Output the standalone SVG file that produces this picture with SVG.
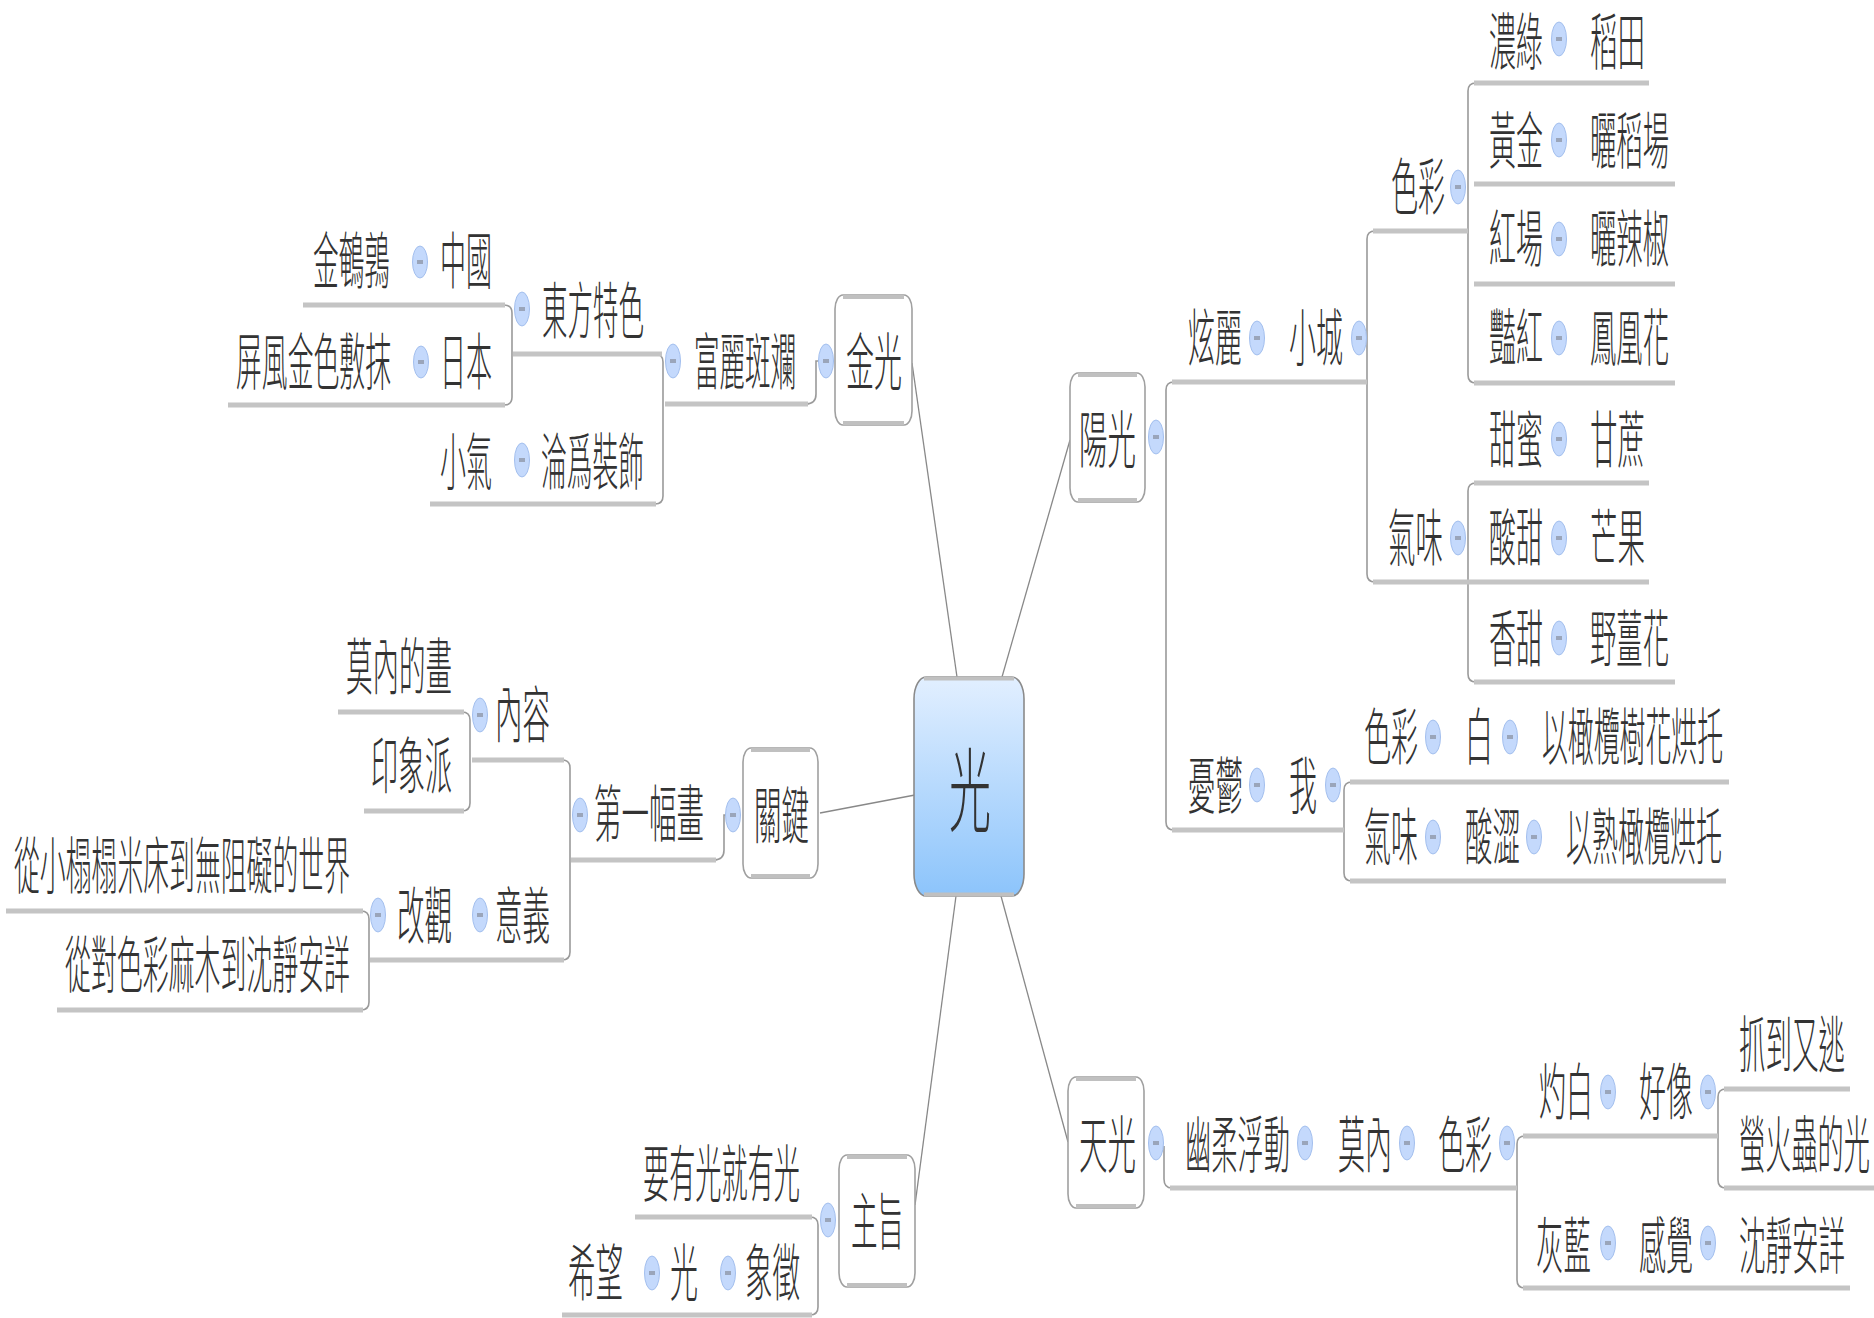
<svg xmlns="http://www.w3.org/2000/svg" width="1874" height="1318" viewBox="0 0 1874 1318">
<defs>
<linearGradient id="cg" x1="0" y1="0" x2="0" y2="1">
<stop offset="0" stop-color="#e2efff"/>
<stop offset="1" stop-color="#8cc4fb"/>
</linearGradient>
<style>
.t{font-family:"Noto Sans CJK TC","Noto Sans CJK SC",sans-serif;font-size:26px;font-weight:300;fill:#333}
.c{font-family:"Noto Sans CJK TC","Noto Sans CJK SC",sans-serif;font-size:42px;font-weight:300;fill:#333}
.ul{stroke:#c4c4c4;stroke-width:5;fill:none}
.cn{stroke:#9a9a9a;stroke-width:1.6;fill:none}
.ml{stroke:#888;stroke-width:1.3;fill:none}
.bx{fill:#fff;stroke:#a0a0a0;stroke-width:1.6}
.bb{stroke:#c0c0c0;stroke-width:4;fill:none}
.ci{fill:#c4d9fc;stroke:#a3bfee;stroke-width:1}
.mi{fill:#9aa5ba}
</style>
</defs>

<g id="connectors">
<path class="ml" d="M957 677 L912 363"/>
<path class="ml" d="M1002 677 L1070 440"/>
<path class="ml" d="M915 795 L820 813" stroke-width="2"/>
<path class="ml" d="M956 896 L915 1205"/>
<path class="ml" d="M1001 896 L1068 1142"/>
<path class="cn" d="M504 305 Q512 305 512 313 L512 397 Q512 405 504 405"/>
<path class="cn" d="M655 354 Q663 354 663 362 L663 496 Q663 504 655 504"/>
<path class="cn" d="M806 404 Q816 404 816 394 L816 361 L819 361"/>
<path class="cn" d="M462 712 Q470 712 470 720 L470 803 Q470 811 462 811"/>
<path class="cn" d="M361 911 Q369 911 369 919 L369 1002 Q369 1010 361 1010"/>
<path class="cn" d="M562 760 Q570 760 570 768 L570 952 Q570 960 562 960"/>
<path class="cn" d="M714 860 Q724 860 724 850 L724 815 L726 815"/>
<path class="cn" d="M810 1217 Q818 1217 818 1225 L818 1307 Q818 1315 810 1315"/>
<path class="cn" d="M1174 382 Q1166 382 1166 390 L1166 822 Q1166 830 1174 830"/>
<path class="cn" d="M1375 231 Q1367 231 1367 239 L1367 574 Q1367 582 1375 582"/>
<path class="cn" d="M1476 83 Q1468 83 1468 91 L1468 375 Q1468 383 1476 383"/>
<path class="cn" d="M1476 483 Q1468 483 1468 491 L1468 674 Q1468 682 1476 682"/>
<path class="cn" d="M1352 782 Q1344 782 1344 790 L1344 873 Q1344 881 1352 881"/>
<path class="cn" d="M1164 1146 L1164 1179 Q1164 1188 1172 1188"/>
<path class="cn" d="M1525 1136 Q1517 1136 1517 1144 L1517 1280 Q1517 1288 1525 1288"/>
<path class="cn" d="M1726 1089 Q1718 1089 1718 1097 L1718 1180 Q1718 1188 1726 1188"/>
</g>

<g id="n-center">
<rect x="914" y="677" width="110" height="219" rx="12" ry="22" fill="url(#cg)" stroke="#8a8a8a" stroke-width="1.6"/>
<path class="bb" d="M924 678.5 L1014 678.5 M924 894.5 L1014 894.5" stroke="#a9b3bf"/>
<text class="c" transform="translate(949,825) scale(1,2.2)" textLength="42" lengthAdjust="spacingAndGlyphs">光</text>
</g>

<!-- 金光 branch -->
<g id="n-jinguang">
<rect class="bx" x="835" y="295" width="77" height="130" rx="8" ry="14"/>
<path class="bb" d="M843 297 L904 297 M843 423 L904 423"/>
<text class="t" transform="translate(846,385) scale(1,2.4)" textLength="56" lengthAdjust="spacingAndGlyphs">金光</text>
<ellipse class="ci" cx="826" cy="361" rx="7.5" ry="17"/><rect class="mi" x="823" y="359" width="6" height="4"/>
</g>
<g id="n-fuli">
<path class="ul" d="M665 404 L808 404"/>
<text class="t" transform="translate(694,385) scale(1,2.4)" textLength="102" lengthAdjust="spacingAndGlyphs">富麗斑斕</text>
<ellipse class="ci" cx="673" cy="361" rx="7.5" ry="17"/><rect class="mi" x="670" y="359" width="6" height="4"/>
</g>
<g id="n-dongfang">
<path class="ul" d="M513 354 L662 354"/>
<text class="t" transform="translate(542,334) scale(1,2.4)" textLength="102" lengthAdjust="spacingAndGlyphs">東方特色</text>
<ellipse class="ci" cx="522" cy="309" rx="7.5" ry="17"/><rect class="mi" x="519" y="307" width="6" height="4"/>
</g>
<g id="n-zhongguo">
<path class="ul" d="M410 305 L505 305"/>
<text class="t" transform="translate(440,284) scale(1,2.4)" textLength="52" lengthAdjust="spacingAndGlyphs">中國</text>
<ellipse class="ci" cx="420" cy="262" rx="7.5" ry="16"/><rect class="mi" x="417" y="260" width="6" height="4"/>
</g>
<g id="n-jinanchun">
<path class="ul" d="M303 305 L410 305"/>
<text class="t" transform="translate(313,284) scale(1,2.4)" textLength="77" lengthAdjust="spacingAndGlyphs">金鵪鶉</text>
</g>
<g id="n-riben">
<path class="ul" d="M410 405 L505 405"/>
<text class="t" transform="translate(440,385) scale(1,2.4)" textLength="52" lengthAdjust="spacingAndGlyphs">日本</text>
<ellipse class="ci" cx="421" cy="362" rx="7.5" ry="16"/><rect class="mi" x="418" y="360" width="6" height="4"/>
</g>
<g id="n-pingfeng">
<path class="ul" d="M228 405 L410 405"/>
<text class="t" transform="translate(236,385) scale(1,2.4)" textLength="155" lengthAdjust="spacingAndGlyphs">屏風金色敷抹</text>
</g>
<g id="n-lunwei">
<path class="ul" d="M512 504 L656 504"/>
<text class="t" transform="translate(541,485) scale(1,2.4)" textLength="103" lengthAdjust="spacingAndGlyphs">淪爲裝飾</text>
<ellipse class="ci" cx="522" cy="460" rx="7.5" ry="17"/><rect class="mi" x="519" y="458" width="6" height="4"/>
</g>
<g id="n-xiaoqi">
<path class="ul" d="M430 504 L512 504"/>
<text class="t" transform="translate(440,485) scale(1,2.4)" textLength="52" lengthAdjust="spacingAndGlyphs">小氣</text>
</g>

<!-- 關鍵 branch -->
<g id="n-guanjian">
<rect class="bx" x="743" y="748" width="75" height="130" rx="8" ry="14"/>
<path class="bb" d="M751 750 L810 750 M751 876 L810 876"/>
<text class="t" transform="translate(754,839) scale(1,2.4)" textLength="55" lengthAdjust="spacingAndGlyphs">關鍵</text>
<ellipse class="ci" cx="733" cy="815" rx="7.5" ry="17"/><rect class="mi" x="730" y="813" width="6" height="4"/>
</g>
<g id="n-diyifu">
<path class="ul" d="M571 860 L716 860"/>
<text class="t" transform="translate(594,837) scale(1,2.4)" textLength="110" lengthAdjust="spacingAndGlyphs">第一幅畫</text>
<ellipse class="ci" cx="580" cy="815" rx="7.5" ry="17"/><rect class="mi" x="577" y="813" width="6" height="4"/>
</g>
<g id="n-neirong">
<path class="ul" d="M472 760 L564 760"/>
<text class="t" transform="translate(495,738) scale(1,2.4)" textLength="55" lengthAdjust="spacingAndGlyphs">內容</text>
<ellipse class="ci" cx="480" cy="715" rx="7.5" ry="17"/><rect class="mi" x="477" y="713" width="6" height="4"/>
</g>
<g id="n-moneihua">
<path class="ul" d="M338 712 L464 712"/>
<text class="t" transform="translate(346,690) scale(1,2.4)" textLength="106" lengthAdjust="spacingAndGlyphs">莫內的畫</text>
</g>
<g id="n-yinxiang">
<path class="ul" d="M364 811 L464 811"/>
<text class="t" transform="translate(371,789) scale(1,2.4)" textLength="81" lengthAdjust="spacingAndGlyphs">印象派</text>
</g>
<g id="n-yiyi">
<path class="ul" d="M470 960 L564 960"/>
<text class="t" transform="translate(495,939) scale(1,2.4)" textLength="55" lengthAdjust="spacingAndGlyphs">意義</text>
<ellipse class="ci" cx="480" cy="915" rx="7.5" ry="17"/><rect class="mi" x="477" y="913" width="6" height="4"/>
</g>
<g id="n-gaiguan">
<path class="ul" d="M370 960 L470 960"/>
<text class="t" transform="translate(397,939) scale(1,2.4)" textLength="55" lengthAdjust="spacingAndGlyphs">改觀</text>
<ellipse class="ci" cx="378" cy="915" rx="7.5" ry="17"/><rect class="mi" x="375" y="913" width="6" height="4"/>
</g>
<g id="n-congxiao">
<path class="ul" d="M6 911 L363 911"/>
<text class="t" transform="translate(14,889) scale(1,2.4)" textLength="336" lengthAdjust="spacingAndGlyphs">從小榻榻米床到無阻礙的世界</text>
</g>
<g id="n-congdui">
<path class="ul" d="M57 1010 L363 1010"/>
<text class="t" transform="translate(65,988) scale(1,2.4)" textLength="285" lengthAdjust="spacingAndGlyphs">從對色彩麻木到沈靜安詳</text>
</g>

<!-- 主旨 branch -->
<g id="n-zhuzhi">
<rect class="bx" x="839" y="1155" width="76" height="132" rx="8" ry="14"/>
<path class="bb" d="M847 1157 L907 1157 M847 1285 L907 1285"/>
<text class="t" transform="translate(851,1245) scale(1,2.4)" textLength="53" lengthAdjust="spacingAndGlyphs">主旨</text>
<ellipse class="ci" cx="828" cy="1220" rx="7.5" ry="17"/><rect class="mi" x="825" y="1218" width="6" height="4"/>
</g>
<g id="n-yaoyou">
<path class="ul" d="M635 1217 L812 1217"/>
<text class="t" transform="translate(643,1197) scale(1,2.4)" textLength="157" lengthAdjust="spacingAndGlyphs">要有光就有光</text>
</g>
<g id="n-xiangzheng">
<path class="ul" d="M715 1315 L812 1315"/>
<text class="t" transform="translate(745,1296) scale(1,2.4)" textLength="55" lengthAdjust="spacingAndGlyphs">象徵</text>
<ellipse class="ci" cx="728" cy="1273" rx="7.5" ry="17"/><rect class="mi" x="725" y="1271" width="6" height="4"/>
</g>
<g id="n-guang2">
<path class="ul" d="M640 1315 L715 1315"/>
<text class="t" transform="translate(670,1296) scale(1,2.4)" textLength="28" lengthAdjust="spacingAndGlyphs">光</text>
<ellipse class="ci" cx="652" cy="1273" rx="7.5" ry="17"/><rect class="mi" x="649" y="1271" width="6" height="4"/>
</g>
<g id="n-xiwang">
<path class="ul" d="M562 1315 L640 1315"/>
<text class="t" transform="translate(568,1296) scale(1,2.4)" textLength="55" lengthAdjust="spacingAndGlyphs">希望</text>
</g>

<!-- 陽光 branch -->
<g id="n-yangguang">
<rect class="bx" x="1070" y="373" width="75" height="129" rx="8" ry="14"/>
<path class="bb" d="M1078 375 L1137 375 M1078 500 L1137 500"/>
<text class="t" transform="translate(1079,463) scale(1,2.4)" textLength="57" lengthAdjust="spacingAndGlyphs">陽光</text>
<ellipse class="ci" cx="1156" cy="437" rx="7.5" ry="17"/><rect class="mi" x="1153" y="435" width="6" height="4"/>
</g>
<g id="n-xuanli">
<path class="ul" d="M1172 382 L1270 382"/>
<text class="t" transform="translate(1188,361) scale(1,2.4)" textLength="54" lengthAdjust="spacingAndGlyphs">炫麗</text>
<ellipse class="ci" cx="1257" cy="338" rx="7.5" ry="17"/><rect class="mi" x="1254" y="336" width="6" height="4"/>
</g>
<g id="n-xiaocheng">
<path class="ul" d="M1270 382 L1367 382"/>
<text class="t" transform="translate(1289,361) scale(1,2.4)" textLength="54" lengthAdjust="spacingAndGlyphs">小城</text>
<ellipse class="ci" cx="1359" cy="338" rx="7.5" ry="17"/><rect class="mi" x="1356" y="336" width="6" height="4"/>
</g>
<g id="n-secai1">
<path class="ul" d="M1373 231 L1468 231"/>
<text class="t" transform="translate(1391,210) scale(1,2.4)" textLength="54" lengthAdjust="spacingAndGlyphs">色彩</text>
<ellipse class="ci" cx="1458" cy="187" rx="7.5" ry="17"/><rect class="mi" x="1455" y="185" width="6" height="4"/>
</g>
<g id="n-nonglv">
<path class="ul" d="M1474 83 L1570 83"/>
<text class="t" transform="translate(1489,65) scale(1,2.4)" textLength="54" lengthAdjust="spacingAndGlyphs">濃綠</text>
<ellipse class="ci" cx="1559" cy="39" rx="7.5" ry="17"/><rect class="mi" x="1556" y="37" width="6" height="4"/>
</g>
<g id="n-daotian">
<path class="ul" d="M1570 83 L1649 83"/>
<text class="t" transform="translate(1590,65) scale(1,2.4)" textLength="55" lengthAdjust="spacingAndGlyphs">稻田</text>
</g>
<g id="n-huangjin">
<path class="ul" d="M1474 184 L1570 184"/>
<text class="t" transform="translate(1489,164) scale(1,2.4)" textLength="54" lengthAdjust="spacingAndGlyphs">黃金</text>
<ellipse class="ci" cx="1559" cy="140" rx="7.5" ry="17"/><rect class="mi" x="1556" y="138" width="6" height="4"/>
</g>
<g id="n-shaidaochang">
<path class="ul" d="M1570 184 L1675 184"/>
<text class="t" transform="translate(1590,164) scale(1,2.4)" textLength="79" lengthAdjust="spacingAndGlyphs">曬稻場</text>
</g>
<g id="n-hongchang">
<path class="ul" d="M1474 284 L1570 284"/>
<text class="t" transform="translate(1489,262) scale(1,2.4)" textLength="54" lengthAdjust="spacingAndGlyphs">紅場</text>
<ellipse class="ci" cx="1559" cy="239" rx="7.5" ry="17"/><rect class="mi" x="1556" y="237" width="6" height="4"/>
</g>
<g id="n-shailajiao">
<path class="ul" d="M1570 284 L1675 284"/>
<text class="t" transform="translate(1590,262) scale(1,2.4)" textLength="79" lengthAdjust="spacingAndGlyphs">曬辣椒</text>
</g>
<g id="n-yanhong">
<path class="ul" d="M1474 383 L1570 383"/>
<text class="t" transform="translate(1489,361) scale(1,2.4)" textLength="54" lengthAdjust="spacingAndGlyphs">豔紅</text>
<ellipse class="ci" cx="1559" cy="338" rx="7.5" ry="17"/><rect class="mi" x="1556" y="336" width="6" height="4"/>
</g>
<g id="n-fenghuanghua">
<path class="ul" d="M1570 383 L1675 383"/>
<text class="t" transform="translate(1590,361) scale(1,2.4)" textLength="79" lengthAdjust="spacingAndGlyphs">鳳凰花</text>
</g>
<g id="n-qiwei1">
<path class="ul" d="M1373 582 L1468 582"/>
<text class="t" transform="translate(1388,561) scale(1,2.4)" textLength="55" lengthAdjust="spacingAndGlyphs">氣味</text>
<ellipse class="ci" cx="1458" cy="538" rx="7.5" ry="17"/><rect class="mi" x="1455" y="536" width="6" height="4"/>
</g>
<g id="n-tianmi">
<path class="ul" d="M1474 483 L1570 483"/>
<text class="t" transform="translate(1489,463) scale(1,2.4)" textLength="54" lengthAdjust="spacingAndGlyphs">甜蜜</text>
<ellipse class="ci" cx="1559" cy="439" rx="7.5" ry="17"/><rect class="mi" x="1556" y="437" width="6" height="4"/>
</g>
<g id="n-ganzhe">
<path class="ul" d="M1570 483 L1649 483"/>
<text class="t" transform="translate(1590,463) scale(1,2.4)" textLength="55" lengthAdjust="spacingAndGlyphs">甘蔗</text>
</g>
<g id="n-suantian">
<path class="ul" d="M1468 582 L1570 582"/>
<text class="t" transform="translate(1489,561) scale(1,2.4)" textLength="54" lengthAdjust="spacingAndGlyphs">酸甜</text>
<ellipse class="ci" cx="1559" cy="538" rx="7.5" ry="17"/><rect class="mi" x="1556" y="536" width="6" height="4"/>
</g>
<g id="n-mangguo">
<path class="ul" d="M1570 582 L1649 582"/>
<text class="t" transform="translate(1590,561) scale(1,2.4)" textLength="55" lengthAdjust="spacingAndGlyphs">芒果</text>
</g>
<g id="n-xiangtian">
<path class="ul" d="M1474 682 L1570 682"/>
<text class="t" transform="translate(1489,662) scale(1,2.4)" textLength="54" lengthAdjust="spacingAndGlyphs">香甜</text>
<ellipse class="ci" cx="1559" cy="638" rx="7.5" ry="17"/><rect class="mi" x="1556" y="636" width="6" height="4"/>
</g>
<g id="n-yejianghua">
<path class="ul" d="M1570 682 L1675 682"/>
<text class="t" transform="translate(1590,662) scale(1,2.4)" textLength="79" lengthAdjust="spacingAndGlyphs">野薑花</text>
</g>
<g id="n-youyu">
<path class="ul" d="M1172 830 L1270 830"/>
<text class="t" transform="translate(1188,809) scale(1,2.4)" textLength="55" lengthAdjust="spacingAndGlyphs">憂鬱</text>
<ellipse class="ci" cx="1257" cy="785" rx="7.5" ry="17"/><rect class="mi" x="1254" y="783" width="6" height="4"/>
</g>
<g id="n-wo">
<path class="ul" d="M1270 830 L1344 830"/>
<text class="t" transform="translate(1289,809) scale(1,2.4)" textLength="28" lengthAdjust="spacingAndGlyphs">我</text>
<ellipse class="ci" cx="1333" cy="785" rx="7.5" ry="17"/><rect class="mi" x="1330" y="783" width="6" height="4"/>
</g>
<g id="n-secai2">
<path class="ul" d="M1350 782 L1445 782"/>
<text class="t" transform="translate(1364,760) scale(1,2.4)" textLength="54" lengthAdjust="spacingAndGlyphs">色彩</text>
<ellipse class="ci" cx="1433" cy="737" rx="7.5" ry="17"/><rect class="mi" x="1430" y="735" width="6" height="4"/>
</g>
<g id="n-bai">
<path class="ul" d="M1445 782 L1522 782"/>
<text class="t" transform="translate(1465,760) scale(1,2.4)" textLength="28" lengthAdjust="spacingAndGlyphs">白</text>
<ellipse class="ci" cx="1510" cy="737" rx="7.5" ry="17"/><rect class="mi" x="1507" y="735" width="6" height="4"/>
</g>
<g id="n-ganlanhua">
<path class="ul" d="M1522 782 L1729 782"/>
<text class="t" transform="translate(1542,760) scale(1,2.4)" textLength="181" lengthAdjust="spacingAndGlyphs">以橄欖樹花烘托</text>
</g>
<g id="n-qiwei2">
<path class="ul" d="M1350 881 L1445 881"/>
<text class="t" transform="translate(1364,860) scale(1,2.4)" textLength="54" lengthAdjust="spacingAndGlyphs">氣味</text>
<ellipse class="ci" cx="1433" cy="837" rx="7.5" ry="17"/><rect class="mi" x="1430" y="835" width="6" height="4"/>
</g>
<g id="n-suanse">
<path class="ul" d="M1445 881 L1546 881"/>
<text class="t" transform="translate(1465,860) scale(1,2.4)" textLength="55" lengthAdjust="spacingAndGlyphs">酸澀</text>
<ellipse class="ci" cx="1534" cy="837" rx="7.5" ry="17"/><rect class="mi" x="1531" y="835" width="6" height="4"/>
</g>
<g id="n-shuganlan">
<path class="ul" d="M1546 881 L1726 881"/>
<text class="t" transform="translate(1566,860) scale(1,2.4)" textLength="156" lengthAdjust="spacingAndGlyphs">以熟橄欖烘托</text>
</g>

<!-- 天光 branch -->
<g id="n-tianguang">
<rect class="bx" x="1068" y="1077" width="76" height="131" rx="8" ry="14"/>
<path class="bb" d="M1076 1079 L1136 1079 M1076 1206 L1136 1206"/>
<text class="t" transform="translate(1079,1168) scale(1,2.4)" textLength="57" lengthAdjust="spacingAndGlyphs">天光</text>
<ellipse class="ci" cx="1156" cy="1143" rx="7.5" ry="17"/><rect class="mi" x="1153" y="1141" width="6" height="4"/>
</g>
<g id="n-youjou">
<path class="ul" d="M1170 1188 L1318 1188"/>
<text class="t" transform="translate(1185,1168) scale(1,2.4)" textLength="105" lengthAdjust="spacingAndGlyphs">幽柔浮動</text>
<ellipse class="ci" cx="1305" cy="1143" rx="7.5" ry="17"/><rect class="mi" x="1302" y="1141" width="6" height="4"/>
</g>
<g id="n-monei">
<path class="ul" d="M1318 1188 L1418 1188"/>
<text class="t" transform="translate(1338,1168) scale(1,2.4)" textLength="54" lengthAdjust="spacingAndGlyphs">莫內</text>
<ellipse class="ci" cx="1407" cy="1143" rx="7.5" ry="17"/><rect class="mi" x="1404" y="1141" width="6" height="4"/>
</g>
<g id="n-secai3">
<path class="ul" d="M1418 1188 L1517 1188"/>
<text class="t" transform="translate(1438,1168) scale(1,2.4)" textLength="54" lengthAdjust="spacingAndGlyphs">色彩</text>
<ellipse class="ci" cx="1507" cy="1143" rx="7.5" ry="17"/><rect class="mi" x="1504" y="1141" width="6" height="4"/>
</g>
<g id="n-zhuobai">
<path class="ul" d="M1523 1136 L1620 1136"/>
<text class="t" transform="translate(1539,1115) scale(1,2.4)" textLength="54" lengthAdjust="spacingAndGlyphs">灼白</text>
<ellipse class="ci" cx="1608" cy="1092" rx="7.5" ry="17"/><rect class="mi" x="1605" y="1090" width="6" height="4"/>
</g>
<g id="n-haoxiang">
<path class="ul" d="M1620 1136 L1718 1136"/>
<text class="t" transform="translate(1639,1115) scale(1,2.4)" textLength="54" lengthAdjust="spacingAndGlyphs">好像</text>
<ellipse class="ci" cx="1708" cy="1092" rx="7.5" ry="17"/><rect class="mi" x="1705" y="1090" width="6" height="4"/>
</g>
<g id="n-zhuadao">
<path class="ul" d="M1724 1089 L1850 1089"/>
<text class="t" transform="translate(1739,1068) scale(1,2.4)" textLength="106" lengthAdjust="spacingAndGlyphs">抓到又逃</text>
</g>
<g id="n-yinghuo">
<path class="ul" d="M1724 1188 L1874 1188"/>
<text class="t" transform="translate(1739,1168) scale(1,2.4)" textLength="131" lengthAdjust="spacingAndGlyphs">螢火蟲的光</text>
</g>
<g id="n-huilan">
<path class="ul" d="M1523 1288 L1620 1288"/>
<text class="t" transform="translate(1536,1269) scale(1,2.4)" textLength="55" lengthAdjust="spacingAndGlyphs">灰藍</text>
<ellipse class="ci" cx="1608" cy="1243" rx="7.5" ry="17"/><rect class="mi" x="1605" y="1241" width="6" height="4"/>
</g>
<g id="n-ganjue">
<path class="ul" d="M1620 1288 L1720 1288"/>
<text class="t" transform="translate(1639,1269) scale(1,2.4)" textLength="54" lengthAdjust="spacingAndGlyphs">感覺</text>
<ellipse class="ci" cx="1708" cy="1243" rx="7.5" ry="17"/><rect class="mi" x="1705" y="1241" width="6" height="4"/>
</g>
<g id="n-chenjing">
<path class="ul" d="M1720 1288 L1850 1288"/>
<text class="t" transform="translate(1739,1269) scale(1,2.4)" textLength="106" lengthAdjust="spacingAndGlyphs">沈靜安詳</text>
</g>
</svg>
